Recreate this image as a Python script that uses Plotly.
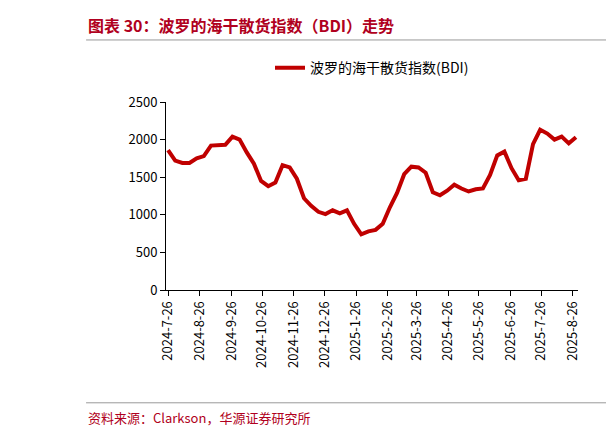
import plotly.graph_objects as go
import pandas as pd

dates = pd.date_range("2024-07-26", periods=58, freq="7D")
bdi = [1860,1720,1690,1690,1750,1780,1920,1930,1930,2040,2000,1830,1680,1450,1380,1430,
       1660,1630,1480,1220,1120,1040,1010,1060,1020,1060,880,740,780,800,880,1100,1290,
       1540,1640,1630,1560,1300,1260,1320,1400,1350,1310,1340,1350,1530,1790,1840,1620,
       1460,1480,1940,2130,2080,2000,2040,1950,2030]
tick_dates = ["2024-07-26","2024-08-26","2024-09-26","2024-10-26","2024-11-26","2024-12-26",
              "2025-01-26","2025-02-26","2025-03-26","2025-04-26","2025-05-26","2025-06-26",
              "2025-07-26","2025-08-26"]
tick_labels = [d[:4] + "-" + str(int(d[5:7])) + "-" + str(int(d[8:])) for d in tick_dates]

fig = go.Figure(go.Scatter(x=dates, y=bdi, mode="lines", name="波罗的海干散货指数(BDI)",
                           line=dict(color="#C00000", width=4)))
font = "Noto Sans CJK SC"
fig.update_layout(
    width=614, height=430, plot_bgcolor="white", paper_bgcolor="white",
    margin=dict(l=158, r=44, t=94, b=148),
    font=dict(family=font, size=13, color="#000"),
    showlegend=True,
    legend=dict(orientation="h", x=0.5, xanchor="center", y=1.18, yanchor="middle", font=dict(size=14)),
    xaxis=dict(tickvals=tick_dates, ticktext=tick_labels, tickangle=-90, showgrid=False,
               showline=True, linecolor="#000", ticks="outside", tickcolor="#000",
               range=["2024-07-24", "2025-08-31"]),
    yaxis=dict(range=[0, 2500], dtick=500, showgrid=False, showline=True, linecolor="#000",
               ticks="outside", tickcolor="#000"),
    annotations=[
        dict(text="<b>图表 30：波罗的海干散货指数（BDI）走势</b>", xref="paper", yref="paper",
             x=-0.194, y=1.41, xanchor="left", yanchor="middle", showarrow=False,
             font=dict(size=16, color="#B00020", family=font)),
        dict(text="资料来源：Clarkson，华源证券研究所", xref="paper", yref="paper",
             x=-0.194, y=-0.68, xanchor="left", yanchor="middle", showarrow=False,
             font=dict(size=13, color="#B00020", family=font)),
    ],
    shapes=[dict(type="line", xref="paper", yref="paper", x0=-0.194, x1=1.1, y0=1.33, y1=1.33,
                 line=dict(color="#999", width=1)),
            dict(type="line", xref="paper", yref="paper", x0=-0.194, x1=1.1, y0=-0.60, y1=-0.60,
                 line=dict(color="#999", width=1))],
)
fig.write_html("out.html")
